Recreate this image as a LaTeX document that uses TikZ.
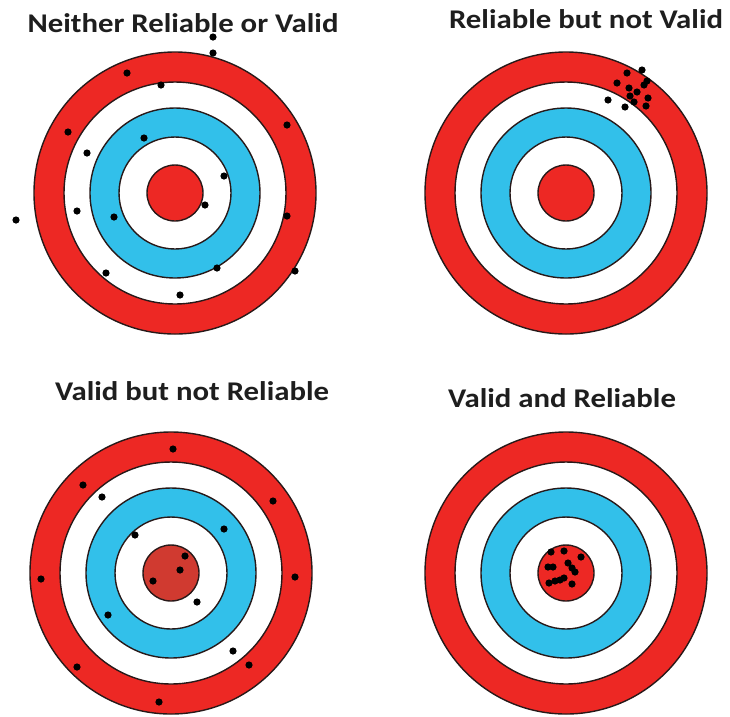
\documentclass[tikz,border=0pt]{standalone}
\usepackage{fontspec}
\setmainfont{Carlito}
\newfontfamily\titlefont[FakeStretch=1.14]{Carlito}
\definecolor{tred}{RGB}{237,40,36}
\definecolor{tredd}{RGB}{208,58,48}
\definecolor{tblue}{RGB}{50,192,234}
\definecolor{tline}{RGB}{40,25,25}
\definecolor{ttext}{RGB}{30,30,30}
\tikzset{
  ring/.style={draw=tline, line width=1.4pt},
  shot/.style={fill=black},
  title/.style={anchor=base, text=ttext, font=\titlefont\fontsize{27}{31}\selectfont\bfseries, inner sep=0pt},
  pics/target/.style={code={
    \fill[tred, ring] (0,0) circle[radius=141pt];
    \fill[white, ring] (0,0) circle[radius=111pt];
    \fill[tblue, ring] (0,0) circle[radius=85pt];
    \fill[white, ring] (0,0) circle[radius=56pt];
    \fill[#1, ring] (0,0) circle[radius=28pt];
  }}
}
\newcommand\shots[1]{\foreach \p in {#1} {\fill[shot] \p circle[radius=3.6pt];}}
\begin{document}
\begin{tikzpicture}[x=1pt,y=-1pt]
\useasboundingbox[fill=white] (0,0) rectangle (730,716);
% titles
\node[title] (t1) at (183,32) {Neither Reliable or Valid};
\node[title] (t2) at (586,28) {Reliable but not Valid};
\node[title] (t3) at (192,400) {Valid but not Reliable};
\node[title] (t4) at (562,407) {Valid and Reliable};
% targets
\pic (g1) at (175,193) {target=tred};
\pic (g2) at (566,193) {target=tred};
\pic (g3) at (171,573) {target=tredd};
\pic (g4) at (566,573) {target=tred};
% shots: neither
\shots{(213,37),(213,53),(127,73),(161,85),(68,132),(287,125),(87,153),(144,138),(224,176),(205,205),(77,211),(114,217),(16,220),(287,216),(106,273),(217,268),(295,271),(180,295)}
% shots: reliable not valid
\shots{(642,70),(627,73),(647,81),(644,85),(617,83),(629,88),(608,100),(630,96),(634,102),(625,107),(648,98),(646,106),(637,92)}
% shots: valid not reliable
\shots{(173,449),(83,485),(102,497),(273,501),(135,535),(224,529),(185,556),(180,570),(153,581),(197,602),(41,579),(295,577),(108,615),(233,651),(249,665),(77,667),(159,702)}
% shots: valid and reliable
\shots{(551,552),(564,551),(581,557),(548,567),(553,567),(568,563),(572,568),(575,572),(549,583),(555,581),(560,580),(564,578),(572,584)}
\end{tikzpicture}
\end{document}
